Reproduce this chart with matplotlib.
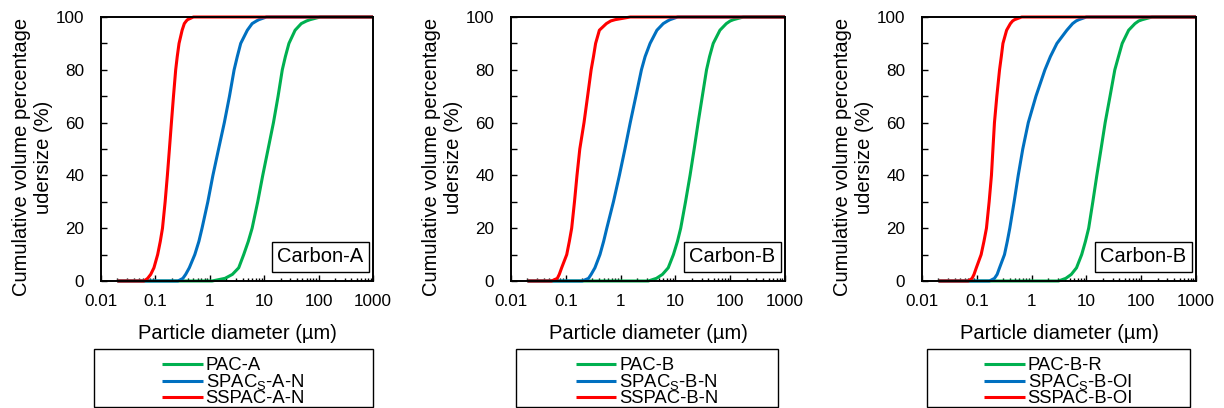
import matplotlib
matplotlib.use("Agg")
import matplotlib.pyplot as plt
from matplotlib.patches import Rectangle
from matplotlib.ticker import LogLocator, FixedLocator, NullFormatter

plt.rcParams['font.family'] = ['Liberation Sans', 'DejaVu Sans']
plt.rcParams['mathtext.default'] = 'regular'

# cumulative levels (%) at which the diameters below were read
levels = [0, 0, 1, 2.5, 5, 10, 15, 20, 30, 40, 50, 60, 70, 80, 85, 90, 95, 97.5, 98.5, 99, 100, 100]

# panel 1 : Carbon-A (diameters in um)
pac_a_d = [0.02, 1.1, 1.9, 2.6, 3.4, 4.2, 5.1, 6.0, 7.6, 9.4, 11.8, 14.8, 18, 21.5, 24.5, 28.5, 37, 48, 60, 70, 107, 1000]
spac_a_d = [0.02, 0.26, 0.32, 0.36, 0.42, 0.53, 0.63, 0.72, 0.92, 1.14, 1.45, 1.85, 2.3, 2.8, 3.2, 3.7, 4.9, 6.0, 7.2, 8.0, 11, 1000]
sspac_a_d = [0.02, 0.062, 0.072, 0.082, 0.094, 0.11, 0.123, 0.135, 0.151, 0.166, 0.181, 0.197, 0.215, 0.236, 0.252, 0.272, 0.31, 0.34, 0.37, 0.39, 0.5, 1000]

# panel 2 : Carbon-B
pac_b_d = [0.02, 3.2, 4.5, 5.8, 7.4, 9.2, 10.9, 12.5, 15.3, 18.5, 22, 26, 31, 37, 42, 49, 65, 85, 100, 115, 174, 1000]
spac_b_d = [0.02, 0.2, 0.26, 0.29, 0.34, 0.42, 0.49, 0.56, 0.74, 0.95, 1.2, 1.5, 1.9, 2.4, 2.8, 3.45, 4.6, 6.0, 7.2, 8.0, 11, 1000]
sspac_b_d = [0.02, 0.055, 0.07, 0.076, 0.084, 0.104, 0.116, 0.128, 0.144, 0.16, 0.18, 0.215, 0.25, 0.29, 0.32, 0.35, 0.41, 0.55, 0.66, 0.8, 1.5, 1000]

# panel 3 : Carbon-B (R / OI)
pac_br_d = [0.02, 3.1, 4.2, 5.3, 6.6, 8.2, 9.6, 11, 13.1, 15.5, 18.5, 22, 27, 33, 38.5, 45, 59, 77, 90, 105, 158, 1000]
spac_boi_d = [0.02, 0.17, 0.21, 0.235, 0.26, 0.32, 0.36, 0.40, 0.48, 0.57, 0.69, 0.87, 1.2, 1.75, 2.2, 2.9, 4.4, 5.6, 6.5, 7.3, 10, 1000]
sspac_boi_d = [0.02, 0.07, 0.082, 0.089, 0.098, 0.12, 0.135, 0.15, 0.168, 0.185, 0.197, 0.21, 0.232, 0.26, 0.28, 0.30, 0.35, 0.41, 0.45, 0.49, 0.66, 1000]

panel_tags = ["Carbon-A", "Carbon-B", "Carbon-B"]
labels_1 = ["PAC-A", "SPAC$_S$-A-N", "SSPAC-A-N"]
labels_2 = ["PAC-B", "SPAC$_S$-B-N", "SSPAC-B-N"]
labels_3 = ["PAC-B-R", "SPAC$_S$-B-OI", "SSPAC-B-OI"]

x_ticks = [0.01, 0.1, 1, 10, 100, 1000]
x_tick_labels = ["0.01", "0.1", "1", "10", "100", "1000"]
y_ticks = [0, 20, 40, 60, 80, 100]

colors = ["#00B050", "#0070C0", "#FF0000"]

W, H = 1224, 408
fig = plt.figure(figsize=(W / 100, H / 100), dpi=100)

# axes boxes in pixels: left, right, top, bottom
ax_px = [(101, 373, 17, 281), (511, 785, 17, 281), (922, 1196, 17, 281)]
leg_px = [(94, 373, 349, 407), (516, 778, 349, 407), (927, 1190, 349, 407)]

data = [
    ([pac_a_d, spac_a_d, sspac_a_d], labels_1),
    ([pac_b_d, spac_b_d, sspac_b_d], labels_2),
    ([pac_br_d, spac_boi_d, sspac_boi_d], labels_3),
]

for i, ((series, labs), tag) in enumerate(zip(data, panel_tags)):
    l, r, t, b = ax_px[i]
    ax = fig.add_axes([l / W, 1 - b / H, (r - l) / W, (b - t) / H])
    handles = []
    for d, lab, c in zip(series, labs, colors):
        h, = ax.plot(d, levels, color=c, lw=2.2, solid_capstyle='butt',
                     solid_joinstyle='round', clip_on=False)
        handles.append(h)
    ax.set_xscale('log')
    ax.set_xlim(0.01, 1000)
    ax.set_ylim(0, 100)
    ax.xaxis.set_major_locator(FixedLocator(x_ticks))
    ax.set_xticklabels(x_tick_labels)
    ax.xaxis.set_minor_locator(LogLocator(base=10, subs=range(2, 10), numticks=20))
    ax.xaxis.set_minor_formatter(NullFormatter())
    ax.set_yticks(y_ticks)
    ax.yaxis.set_minor_locator(FixedLocator(list(range(10, 100, 20))))
    ax.tick_params(axis='both', which='both', direction='in', labelsize=12.3, width=1.0, color='black')
    ax.tick_params(axis='x', which='major', length=4, pad=9)
    ax.tick_params(axis='x', which='minor', length=2.5)
    ax.tick_params(axis='y', which='major', length=4, pad=12)
    ax.tick_params(axis='y', which='minor', length=4)
    for s in ax.spines.values():
        s.set_linewidth(1.4)
    ax.set_xlabel("Particle diameter (µm)", fontsize=14.5, labelpad=11)
    ax.set_ylabel("Cumulative volume percentage\nudersize (%)", fontsize=14.5, labelpad=2, linespacing=1.2)
    ax.yaxis.label.set_y(0.47)
    ax.text(0.965, 0.055, tag, transform=ax.transAxes, ha='right', va='bottom', fontsize=14.5,
            bbox=dict(boxstyle='square,pad=0.28', fc='white', ec='black', lw=1.0), zorder=5)

    ll, lr, lt, lb = leg_px[i]
    fig.patches.append(Rectangle((ll / W, 1 - lb / H), (lr - ll) / W, (lb - lt) / H,
                                 transform=fig.transFigure, fill=False, ec='black', lw=1.0))
    fig.legend(handles, labs, loc='upper center', bbox_to_anchor=((ll + lr) / 2 / W, 1 - 357 / H),
               frameon=False, fontsize=13.3, handlelength=2.2, handletextpad=0.15,
               labelspacing=-0.1, borderpad=0, borderaxespad=0)

fig.savefig("out.png", dpi=100)
